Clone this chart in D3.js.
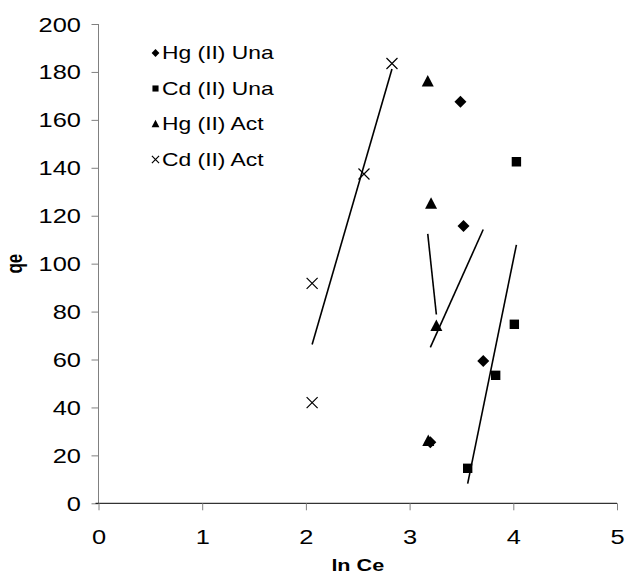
<!DOCTYPE html>
<html>
<head>
<meta charset="utf-8">
<script src="https://cdn.jsdelivr.net/npm/d3@7"></script>
<style>
body { margin: 0; background: #fff; }
text { font-family: "Liberation Sans", Arial, sans-serif; fill: #000; }
</style>
</head>
<body>
<svg id="chart" width="627" height="576"></svg>
<script>
"use strict";

//	values
var seriesNames = ["Hg (II) Una", "Cd (II) Una", "Hg (II) Act", "Cd (II) Act"];
var hgUnaX = [3.49, 3.52, 3.71, 3.20];
var hgUnaY = [167.6, 115.7, 59.4, 25.5];
var cdUnaX = [4.03, 4.01, 3.83, 3.56];
var cdUnaY = [142.5, 74.7, 53.4, 14.6];
var hgActX = [3.175, 3.207, 3.258, 3.18];
var hgActY = [176, 125, 74, 26];
var cdActX = [2.83, 2.56, 2.06, 2.06];
var cdActY = [183.5, 137.4, 91.8, 42];
var xTicks = [0, 1, 2, 3, 4, 5];
var yTicks = [0, 20, 40, 60, 80, 100, 120, 140, 160, 180, 200];

var svg = d3.select("#chart");
var plotLeft = 98.5, plotRight = 617, plotTop = 24, plotBottom = 503.3;
var STRETCH = 1.27;	// the original chart text is wider than normal

var x = d3.scaleLinear().domain([0, 5]).range([plotLeft, plotRight]);
var y = d3.scaleLinear().domain([0, 200]).range([plotBottom, plotTop]);

//
//	axes
//
var yAxis = svg.append("g")
	.attr("transform", "translate(" + plotLeft + ",0)")
	.call(d3.axisLeft(y).tickValues(yTicks).tickSize(7).tickFormat(d3.format("d")));
yAxis.select(".domain").attr("stroke", "#808080").attr("d", "M0," + plotTop + "V" + plotBottom);
yAxis.selectAll(".tick line").attr("stroke", "#808080");
yAxis.selectAll(".tick text")
	.style("font-size", "20px").attr("dy", "0.35em")
	.attr("x", -17.5 / STRETCH)
	.attr("transform", "scale(" + STRETCH + ",1)");

var xAxis = svg.append("g")
	.attr("transform", "translate(0," + plotBottom + ")")
	.call(d3.axisBottom(x).tickValues(xTicks).tickSize(7).tickFormat(d3.format("d")));
xAxis.select(".domain").attr("stroke", "#000").attr("d", "M" + (plotLeft - 3) + ",0H" + plotRight);
xAxis.selectAll(".tick line").attr("stroke", "#808080");
xAxis.selectAll(".tick text")
	.style("font-size", "20px").attr("y", 40.5).attr("dy", null)
	.attr("transform", "scale(" + STRETCH + ",1)");

function wideText(parent, tx, ty, str, size, bold, anchor){
	var g = parent.append("g").attr("transform", "translate(" + tx + "," + ty + ") scale(" + STRETCH + ",1)");
	var t = g.append("text")
		.attr("text-anchor", anchor || "start")
		.style("font-size", size + "px")
		.text(str);
	if(bold){ t.style("font-weight", "bold"); }
	return t;
}

wideText(svg, (plotLeft + plotRight) / 2, 571, "ln Ce", 17, true, "middle");

svg.append("g")
	.attr("transform", "translate(22," + y(100) + ") rotate(-90) scale(1," + STRETCH + ")")
	.append("text")
	.attr("text-anchor", "middle")
	.style("font-size", "17px").style("font-weight", "bold")
	.text("qe");

//
//	linear trendline over the x range of a series
//
function fitLine(xs, ys){
	var mx = d3.mean(xs), my = d3.mean(ys);
	var sxy = d3.sum(xs, function(v, i){ return (v - mx) * (ys[i] - my); });
	var sxx = d3.sum(xs, function(v){ return (v - mx) * (v - mx); });
	var b = sxy / sxx, a = my - b * mx;
	var x0 = d3.min(xs), x1 = d3.max(xs);
	return [[x0, a + b * x0], [x1, a + b * x1]];
}

var series = [
	{xs: hgUnaX, ys: hgUnaY, sym: "diamond"},
	{xs: cdUnaX, ys: cdUnaY, sym: "square"},
	{xs: hgActX, ys: hgActY, sym: "triangle"},
	{xs: cdActX, ys: cdActY, sym: "cross"}
];

var line = d3.line().x(function(d){ return x(d[0]); }).y(function(d){ return y(d[1]); });

series.forEach(function(s){
	svg.append("path")
		.attr("d", line(fitLine(s.xs, s.ys)))
		.attr("fill", "none").attr("stroke", "#000").attr("stroke-width", 1.6);
});

//	k scales the marker (legend markers are smaller)
function drawMarker(g, sym, cx, cy, k){
	k = k || 1;
	var p = d3.path();
	if(sym == "diamond"){
		p.moveTo(cx, cy - 6 * k); p.lineTo(cx + 6 * k, cy); p.lineTo(cx, cy + 6 * k); p.lineTo(cx - 6 * k, cy); p.closePath();
		g.append("path").attr("d", p.toString()).attr("fill", "#000");
	}else if(sym == "square"){
		p.rect(cx - 4.7 * k, cy - 4.7 * k, 9.4 * k, 9.4 * k);
		g.append("path").attr("d", p.toString()).attr("fill", "#000");
	}else if(sym == "triangle"){
		p.moveTo(cx, cy - 6.5 * k); p.lineTo(cx + 6 * k, cy + 5 * k); p.lineTo(cx - 6 * k, cy + 5 * k); p.closePath();
		g.append("path").attr("d", p.toString()).attr("fill", "#000");
	}else{
		p.moveTo(cx - 5.5 * k, cy - 5.5 * k); p.lineTo(cx + 5.5 * k, cy + 5.5 * k);
		p.moveTo(cx + 5.5 * k, cy - 5.5 * k); p.lineTo(cx - 5.5 * k, cy + 5.5 * k);
		g.append("path").attr("d", p.toString())
			.attr("stroke", "#000").attr("stroke-width", 1.2).attr("fill", "none");
	}
}

var marks = svg.append("g");
series.forEach(function(s){
	s.xs.forEach(function(v, i){
		drawMarker(marks, s.sym, x(v), y(s.ys[i]));
	});
});

//
//	legend
//
var legend = svg.append("g");
var rowY = [53, 88.5, 124, 159.5];
series.forEach(function(s, i){
	drawMarker(legend, s.sym, 155.5, rowY[i], 0.65);
	wideText(legend, 162, rowY[i], seriesNames[i], 18, false, "start").attr("dy", "0.35em");
});
</script>
</body>
</html>
